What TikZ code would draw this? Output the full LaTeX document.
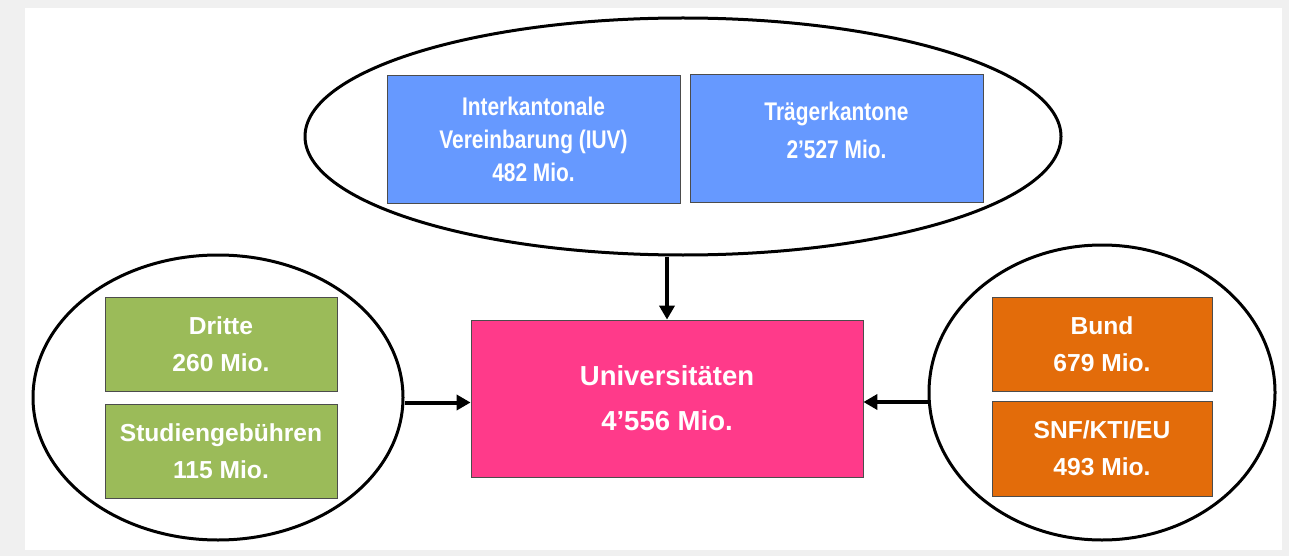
\documentclass[tikz,border=0pt]{standalone}
\usepackage{fontspec}
\setmainfont{Liberation Sans}
\newfontfamily\narrowfont[FakeStretch=0.82]{Liberation Sans}
\usepackage{xcolor}
\usetikzlibrary{shapes.geometric,arrows.meta}
\definecolor{kantonblue}{HTML}{6699FF}
\definecolor{unipink}{HTML}{FF3A8A}
\definecolor{drittgreen}{HTML}{9BBB59}
\definecolor{bundorange}{HTML}{E36C0A}
\definecolor{framegray}{HTML}{F0F0F0}

\begin{document}
\begin{tikzpicture}[x=1pt,y=-1pt,>={Triangle[length=14pt,width=15pt]},
    box/.style={draw=black!70,line width=0.8pt,inner sep=0pt,text=white,align=center,
        font=\bfseries\fontsize{24.6}{37}\selectfont},
    bluebox/.style={box,fill=kantonblue,minimum width=293pt,minimum height=128pt,
        font=\narrowfont\bfseries\fontsize{25.5}{33}\selectfont},
    oval/.style={draw,ellipse,line width=3pt,inner sep=0pt},
    link/.style={->,line width=4pt}]
    \fill[framegray] (0,0) rectangle (1289,556);
    \fill[white] (25,8) rectangle (1282,550);
    \useasboundingbox (0,0) rectangle (1289,556);
    % ellipses
    \node[oval,minimum width=756pt,minimum height=237pt] (top) at (683,136.5) {};
    \node[oval,minimum width=370pt,minimum height=285pt] (left) at (218,397.5) {};
    \node[oval,minimum width=346pt,minimum height=295pt] (right) at (1102,392.5) {};
    % kantone
    \node[bluebox] (iuv) at (533.5,139) {Interkantonale\\Vereinbarung (IUV)\\482 Mio.};
    \node[bluebox,font=\narrowfont\bfseries\fontsize{25.5}{38}\selectfont] (traeger) at (836.5,138.5) {Trägerkantone\\2’527 Mio.\\[-33pt]\strut};
    % universitaeten
    \node[box,fill=unipink,minimum width=392pt,minimum height=157pt,
        font=\bfseries\fontsize{27.5}{45}\selectfont] (uni) at (667,398.5) {Universitäten\\4’556 Mio.};
    % dritte
    \node[box,fill=drittgreen,minimum width=232pt,minimum height=94pt] (dritte) at (221,344) {Dritte\\260 Mio.};
    \node[box,fill=drittgreen,minimum width=232pt,minimum height=94pt] (gebuehren) at (221,451) {Studiengebühren\\115 Mio.};
    % bund
    \node[box,fill=bundorange,minimum width=220pt,minimum height=94pt] (bund) at (1102,344) {Bund\\679 Mio.};
    \node[box,fill=bundorange,minimum width=220pt,minimum height=95pt] (snf) at (1102,448.5) {SNF/KTI/EU\\493 Mio.};
    % arrows
    \coordinate (lin) at ([yshift=-4pt]uni.west);
    \coordinate (rin) at ([yshift=-3.5pt]uni.east);
    \draw[link] (top.south -| uni.north) -- (uni.north);
    \draw[link] (lin -| left.east) -- (lin);
    \draw[link] (rin -| right.west) -- (rin);
\end{tikzpicture}
\end{document}
